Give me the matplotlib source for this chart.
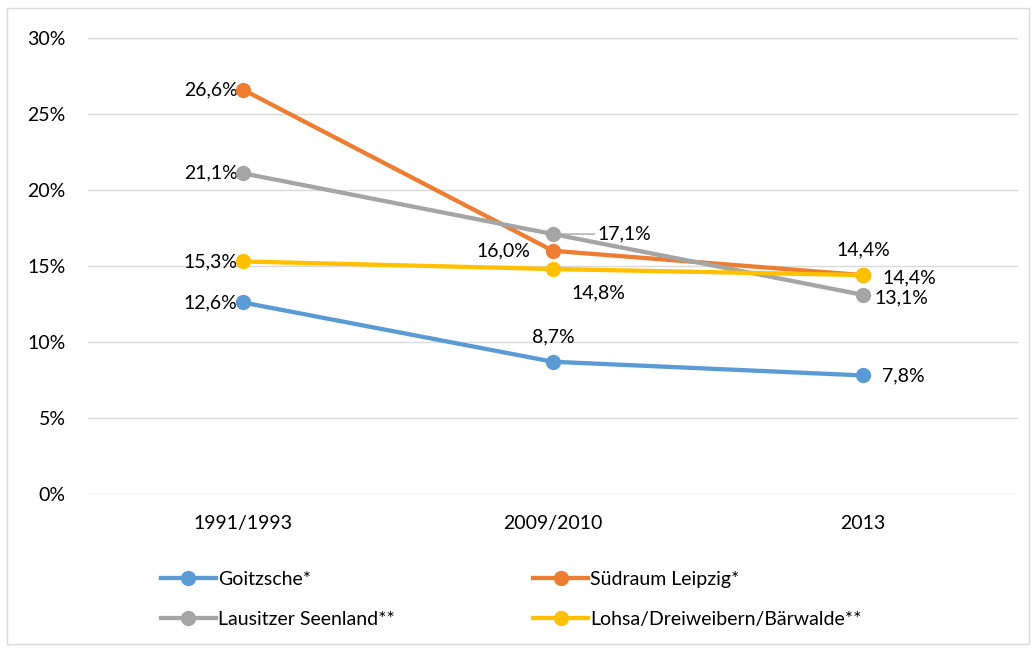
import matplotlib.pyplot as plt
from matplotlib.patches import Rectangle

plt.rcParams['font.family'] = ['Lato', 'DejaVu Sans']

years = ['1991/1993', '2009/2010', '2013']
goitzsche = [12.6, 8.7, 7.8]
suedraum = [26.6, 16.0, 14.4]
lausitz = [21.1, 17.1, 13.1]
lohsa = [15.3, 14.8, 14.4]
names = ['Goitzsche*', 'Südraum Leipzig*', 'Lausitzer Seenland**', 'Lohsa/Dreiweibern/Bärwalde**']
colors = ['#5B9BD5', '#ED7D31', '#A5A5A5', '#FFC000']

# label offsets (points) per series and point
offsets = [
    [(-4, 0, 'right', 'center'), (0, 12, 'center', 'bottom'), (14, 0, 'left', 'center')],
    [(-4, 0, 'right', 'center'), (-16, 0, 'right', 'center'), (0, 12, 'center', 'bottom')],
    [(-4, 0, 'right', 'center'), (32, 0, 'left', 'center'), (8, -2, 'left', 'center')],
    [(-4, 0, 'right', 'center'), (13, -11, 'left', 'top'), (14, -2, 'left', 'center')],
]
fs = 14

fig = plt.figure(figsize=(10.34, 6.5), dpi=100)
ax = fig.add_axes([88 / 1034, 1 - 494 / 650, 930 / 1034, 456 / 650])
fig.patches.append(Rectangle((7 / 1034, 6 / 650), 1022 / 1034, 636 / 650,
                             transform=fig.transFigure, fill=False,
                             edgecolor='#D9D9D9', linewidth=1))

x = [0.5, 1.5, 2.5]
lines = []
for i, vals in enumerate([goitzsche, suedraum, lausitz, lohsa]):
    ln, = ax.plot(x, vals, color=colors[i], lw=3.1, marker='o', ms=10,
                  label=names[i], zorder=3 + i)
    lines.append(ln)
    for j, v in enumerate(vals):
        dx, dy, ha, va = offsets[i][j]
        lab = f'{v:.1f}%'.replace('.', ',')
        if i == 2 and j == 1:
            ax.annotate(lab, (x[j], v), xytext=(dx, dy), textcoords='offset points',
                        ha=ha, va=va, fontsize=fs, color='#000000',
                        arrowprops=dict(arrowstyle='-', color='#A5A5A5', lw=1,
                                        shrinkA=0, shrinkB=5))
        else:
            ax.annotate(lab, (x[j], v), xytext=(dx, dy), textcoords='offset points',
                        ha=ha, va=va, fontsize=fs, color='#000000')

ax.set_xlim(0, 3)
ax.set_ylim(0, 30)
ax.set_yticks(range(0, 31, 5))
ax.set_yticklabels([f'{t}%' for t in range(0, 31, 5)])
ax.set_xticks(x)
ax.set_xticklabels(years)
ax.tick_params(length=0, labelsize=fs, colors='#000000')
ax.tick_params(axis='y', pad=16)
ax.tick_params(axis='x', pad=15)
ax.grid(axis='y', color='#D9D9D9', lw=1)
ax.set_axisbelow(True)
for s in ax.spines.values():
    s.set_visible(False)

# row-major order like the original legend
order = [0, 2, 1, 3]
fig.legend(handles=[lines[k] for k in order], loc='upper left',
           bbox_to_anchor=(151 / 1034, 1 - 561 / 650), borderpad=0,
           ncol=2, frameon=False, fontsize=fs, handlelength=2.85, handletextpad=0.1,
           columnspacing=7.1, labelspacing=1.2)

plt.savefig('out.png', dpi=100)
